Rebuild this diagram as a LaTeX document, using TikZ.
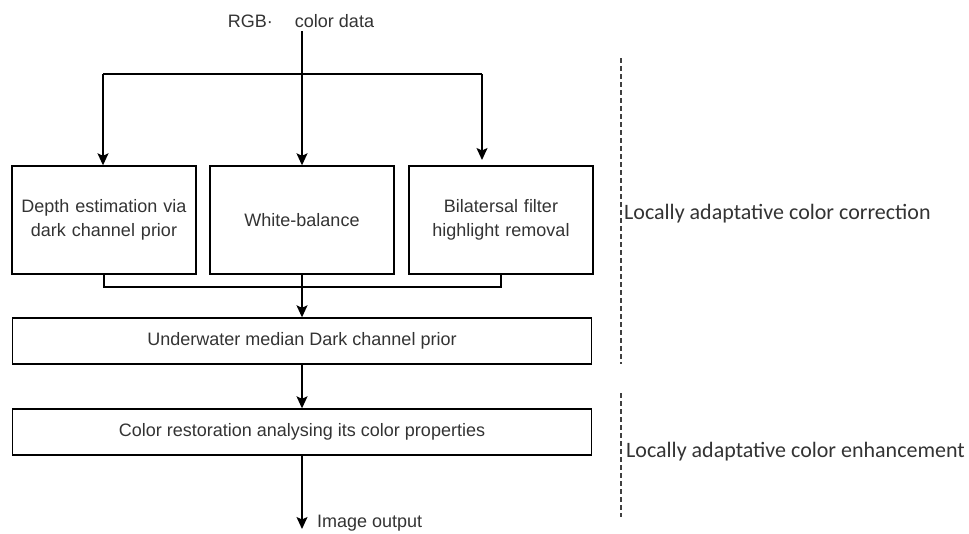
\documentclass[tikz,border=0pt]{standalone}
\usepackage{fontspec}
\setmainfont{Liberation Sans}
\newfontfamily\calibrifont{Carlito}
\usetikzlibrary{arrows.meta,calc}
\definecolor{txt}{HTML}{333333}
\begin{document}
\begin{tikzpicture}[x=1pt,y=-1pt,
  font=\fontsize{18}{24}\selectfont,
  box/.style={draw=black,line width=1.4pt,text=txt,align=center,inner sep=0pt},
  topbox/.style={box,minimum width=184pt,minimum height=108pt,text width=180pt},
  widebox/.style={box,minimum width=579pt,minimum height=46pt},
  link/.style={line width=1.4pt,draw=black},
  arr/.style={link,-{Stealth[length=12pt,width=11pt,inset=2.5pt]}},
  divider/.style={line width=1.4pt,draw=black!75,dash pattern=on 5pt off 3pt},
  note/.style={text=txt,inner sep=0pt},
  side/.style={note,anchor=base west,font=\calibrifont\fontsize{22}{26}\selectfont}]
\useasboundingbox (0,0) rectangle (969,533);

% input label
\node[note,anchor=base] (rgb) at (301,27) {RGB\textperiodcentered\hspace{22pt}color data};
\coordinate (src) at (302,31);

% three parallel stages
\node[topbox] (dep) at (104,220) {Depth estimation via\\dark channel prior};
\node[topbox] (wb)  at (302,220) {White-balance};
\node[topbox] (hl)  at (501,220) {Bilatersal filter\\highlight removal};

% sequential stages
\node[widebox] (udcp) at (302,341) {Underwater median Dark channel prior};
\node[widebox] (cr)   at (302,432) {Color restoration analysing its color properties};

% fan-out from the input
\coordinate (bl) at (103,74);
\coordinate (br) at (482,74);
\coordinate (brEnd) at (482,160);
\draw[arr] (src) -- (src |- wb.north);
\draw[link] (bl) -- (br);
\draw[arr] (bl) -- (bl |- dep.north);
\draw[arr] (br) -- (brEnd);

% merge into the dark channel prior stage
\coordinate (merge) at (0,287);
\draw[link] (dep.south) -- (dep.south |- merge) -- (hl.south |- merge) -- (hl.south);
\draw[arr] (wb.south) -- (wb.south |- udcp.north);

% remaining chain
\draw[arr] (udcp.south) -- (udcp.south |- cr.north);
\coordinate (out) at (302,529);
\draw[arr] (cr.south) -- (out);
\node[note,anchor=base west] (outlbl) at (317,527) {Image output};

% section dividers and labels
\coordinate (d1a) at (621,58);
\coordinate (d1b) at (621,364);
\coordinate (d2a) at (621,393);
\coordinate (d2b) at (621,517);
\draw[divider] (d1a) -- (d1b);
\draw[divider] (d2a) -- (d2b);
\node[side] (lblcorr) at (624,219) {Locally adaptative color correction};
\node[side] (lblenh)  at (626,457) {Locally adaptative color enhancement};
\end{tikzpicture}
\end{document}
